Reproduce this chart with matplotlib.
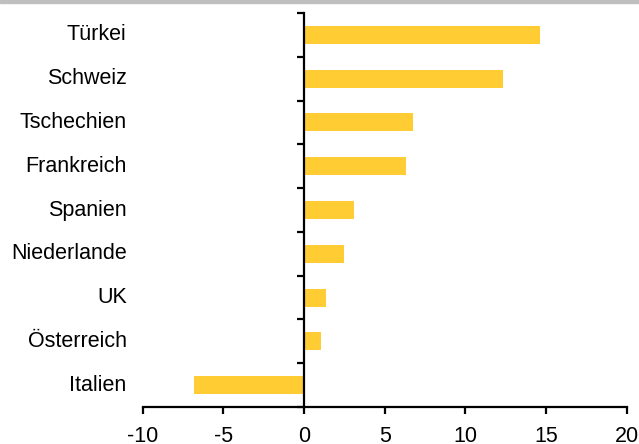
import matplotlib
matplotlib.use('Agg')
import matplotlib.pyplot as plt
import numpy as np

plt.rcParams['font.family'] = ['Liberation Sans', 'DejaVu Sans']
plt.rcParams['axes.unicode_minus'] = False

countries = ['Türkei', 'Schweiz', 'Tschechien', 'Frankreich', 'Spanien',
             'Niederlande', 'UK', 'Österreich', 'Italien']
values = [14.6, 12.3, 6.75, 6.3, 3.1, 2.5, 1.35, 1.05, -6.8]

bar_color = '#FFCC33'

fig = plt.figure(figsize=(6.39, 4.44), dpi=100)
ax = fig.add_axes([0.2233, 0.0833, 0.7577, 0.8874])

n = len(countries)
ypos = np.arange(n)[::-1]
ax.barh(ypos, values, height=0.41, color=bar_color, zorder=1)

ax.set_xlim(-10, 20)
ax.set_ylim(-0.5, n - 0.5)

# vertical axis sits at zero, with ticks between the categories
ax.spines['left'].set_position(('data', 0))
ax.spines['left'].set_linewidth(1.6)
ax.spines['bottom'].set_linewidth(1.6)
ax.spines['left'].set_zorder(3)
ax.spines['top'].set_visible(False)
ax.spines['right'].set_visible(False)

ax.set_yticks(np.arange(n + 1) - 0.5)
ax.set_yticklabels([])
ax.tick_params(axis='y', direction='out', length=5, width=1.6)

ax.set_xticks(np.arange(-10, 21, 5))
ax.tick_params(axis='x', direction='out', length=5, width=1.6,
               labelsize=15.5, pad=9)

# category names along the left edge of the plot area
for y, name in zip(ypos, countries):
    ax.annotate(name, xy=(0, y), xycoords=ax.get_yaxis_transform(),
                xytext=(-11.5, 0), textcoords='offset points',
                ha='right', va='center', fontsize=15.5)

# grey rule across the top
fig.patches.append(plt.Rectangle((0, 1 - 3 / 444), 1, 3 / 444,
                                 transform=fig.transFigure,
                                 color='#BFBFBF', zorder=0))

plt.savefig('out.png', dpi=100)
